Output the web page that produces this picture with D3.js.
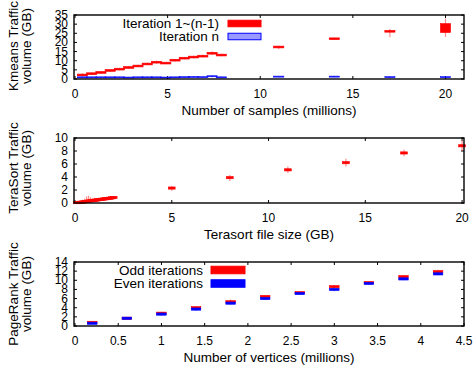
<!DOCTYPE html>
<html>
<head>
<meta charset="utf-8">
<script src="https://cdn.jsdelivr.net/npm/d3@7/dist/d3.min.js"></script>
<style>
  body { margin: 0; background: #fff; }
  text { font-family: "Liberation Sans", Arial, Helvetica, sans-serif; }
</style>
</head>
<body>
<svg id="chart" width="474" height="373"></svg>
<script>
// ---- Kmeans panel ----
const kmX = [0.4, 0.9, 1.4, 1.9, 2.4, 2.9, 3.4, 3.9, 4.4, 4.9, 5.4, 5.9, 6.4, 6.9, 7.4, 7.9, 11, 14, 17, 20];
// Iteration 1~(n-1): box low / high, whisker min / max
const kmRedLow  = [1.8, 2.5, 3.2, 4.3, 5.0, 5.9, 6.7, 7.8, 8.8, 8.3, 9.9, 11.0, 11.6, 12.1, 13.6, 12.7, 17.1, 21.7, 25.7, 25.4];
const kmRedHigh = [2.6, 3.3, 4.0, 5.1, 5.8, 6.7, 7.5, 8.6, 9.6, 9.1, 10.7, 11.8, 12.4, 12.9, 14.6, 13.5, 17.9, 22.3, 26.5, 30.3];
const kmRedMin  = [1.4, 2.2, 2.9, 4.0, 4.8, 5.6, 6.5, 7.6, 8.4, 8.1, 9.6, 10.8, 11.3, 11.8, 13.2, 12.5, 16.3, 21.3, 22.9, 23.0];
const kmRedMax  = [3.0, 3.6, 4.3, 5.4, 6.1, 7.0, 7.8, 8.9, 10.0, 9.3, 11.0, 12.0, 12.7, 13.2, 15.2, 13.8, 18.2, 22.6, 27.3, 33.0];
// Iteration n
const kmBlue    = [0.9, 0.9, 0.9, 0.9, 0.9, 0.8, 0.9, 0.9, 0.9, 0.8, 0.9, 1.0, 1.1, 1.0, 1.5, 0.9, 1.3, 1.3, 1.0, 1.0];
const kmBlueMin = [0.6, 0.6, 0.6, 0.6, 0.6, 0.5, 0.6, 0.6, 0.6, 0.5, 0.6, 0.7, 0.7, 0.7, 1.0, 0.6, 1.0, 1.0, 0.6, 0.6];
const kmBlueMax = [1.2, 1.2, 1.2, 1.2, 1.2, 1.1, 1.2, 1.2, 1.2, 1.1, 1.2, 1.3, 1.6, 1.3, 2.0, 1.2, 1.6, 1.6, 1.4, 1.5];
const kmXTicks = [0, 5, 10, 15, 20];
const kmYTicks = [0, 5, 10, 15, 20, 25, 30, 35];

// ---- TeraSort panel ----
const tsX   = [0.1, 0.2, 0.3, 0.4, 0.5, 0.6, 0.7, 0.8, 0.9, 1.0, 1.1, 1.2, 1.3, 1.4, 1.5, 1.6, 1.7, 1.8, 1.9, 2.0, 5, 8, 11, 14, 17, 20];
const tsVal = [0.05, 0.08, 0.12, 0.15, 0.2, 0.25, 0.3, 0.33, 0.37, 0.42, 0.45, 0.5, 0.53, 0.57, 0.62, 0.66, 0.7, 0.74, 0.8, 0.85, 2.3, 3.9, 5.1, 6.2, 7.7, 8.8];
const tsMin = [0.0, 0.0, 0.0, 0.05, 0.1, 0.1, 0.15, 0.2, 0.25, 0.3, 0.35, 0.4, 0.45, 0.45, 0.5, 0.55, 0.6, 0.65, 0.7, 0.75, 1.9, 3.4, 4.6, 5.6, 7.2, 8.0];
const tsMax = [0.2, 0.3, 0.4, 0.5, 0.7, 1.0, 1.1, 0.9, 0.7, 0.8, 0.7, 0.8, 0.7, 0.8, 0.9, 0.8, 0.9, 0.9, 1.0, 1.0, 2.6, 4.3, 5.6, 6.8, 8.2, 9.6];
const tsXTicks = [0, 5, 10, 15, 20];
const tsYTicks = [0, 2, 4, 6, 8, 10];

// ---- PageRank panel ----
const prX      = [0.2, 0.6, 1.0, 1.4, 1.8, 2.2, 2.6, 3.0, 3.4, 3.8, 4.2];
const prOdd    = [0.8, 1.7, 2.8, 4.0, 5.3, 6.45, 7.3, 8.6, 9.5, 10.8, 11.9];
const prOddMin = [0.6, 1.5, 2.5, 3.7, 5.0, 6.2, 7.1, 8.3, 9.3, 10.5, 11.6];
const prOddMax = [1.0, 1.9, 3.1, 4.3, 5.8, 6.7, 7.5, 8.9, 9.7, 11.1, 12.3];
const prEven    = [0.6, 1.7, 2.6, 3.7, 5.0, 6.0, 7.1, 8.0, 9.3, 10.3, 11.4];
const prEvenMin = [0.4, 1.5, 2.3, 3.3, 4.7, 5.7, 6.9, 7.6, 9.0, 10.0, 11.1];
const prEvenMax = [0.8, 1.9, 2.9, 4.0, 5.3, 6.3, 7.3, 8.4, 9.6, 10.6, 11.7];
const prXTicks = [0, 0.5, 1, 1.5, 2, 2.5, 3, 3.5, 4, 4.5];
const prYTicks = [0, 2, 4, 6, 8, 10, 12, 14];

const svg = d3.select('#chart');
const left = 74, right = 464;

function panel(top, bottom, xDomain, yDomain, xTicks, yTicks, xTitle, yLines, labelCenter) {
  const x = d3.scaleLinear().domain(xDomain).range([left + 1, right]);
  const y = d3.scaleLinear().domain(yDomain).range([bottom, top]);
  const g = svg.append('g');

  // inward ticks on all four sides (mirror)
  const tl = 3;
  xTicks.forEach(function (t) {
    g.append('line').attr('x1', x(t)).attr('x2', x(t)).attr('y1', bottom).attr('y2', bottom - tl)
      .attr('stroke', '#000').attr('stroke-width', 1);
    g.append('line').attr('x1', x(t)).attr('x2', x(t)).attr('y1', top).attr('y2', top + tl)
      .attr('stroke', '#000').attr('stroke-width', 1);
    g.append('text').attr('x', x(t)).attr('y', bottom + 19)
      .attr('text-anchor', 'middle').attr('font-size', 12).text(t);
  });
  yTicks.forEach(function (t) {
    g.append('line').attr('x1', left).attr('x2', left + tl).attr('y1', y(t)).attr('y2', y(t))
      .attr('stroke', '#000').attr('stroke-width', 1);
    g.append('line').attr('x1', right).attr('x2', right - tl).attr('y1', y(t)).attr('y2', y(t))
      .attr('stroke', '#000').attr('stroke-width', 1);
    g.append('text').attr('x', left - 6).attr('y', y(t))
      .attr('text-anchor', 'end').attr('dominant-baseline', 'central')
      .attr('font-size', 12).text(t);
  });

  g.append('text').attr('x', (left + right) / 2).attr('y', bottom + 36)
    .attr('text-anchor', 'middle').attr('font-size', 13.5).text(xTitle);

  yLines.forEach(function (s, i) {
    g.append('text')
      .attr('transform', 'translate(' + (17.5 + i * 13) + ',' + labelCenter + ') rotate(-90)')
      .attr('text-anchor', 'middle').attr('font-size', 13.5).text(s);
  });

  return { g: g, x: x, y: y, top: top, bottom: bottom };
}

function border(p) {
  p.g.append('rect')
    .attr('x', left).attr('y', p.top)
    .attr('width', right - left).attr('height', p.bottom - p.top)
    .attr('fill', 'none').attr('stroke', '#000').attr('stroke-width', 1.4);
}

// candlestick: box from lo to hi (at least minPx tall), whisker from mn to mx
function candles(p, xs, lo, hi, mn, mx, width, fill, stroke, minPx) {
  const g = p.g.append('g');
  xs.forEach(function (xv, i) {
    const cx = p.x(xv);
    const w = p.x(xv + width / 2) - p.x(xv - width / 2);
    g.append('line')
      .attr('x1', cx).attr('x2', cx)
      .attr('y1', p.y(mn[i])).attr('y2', p.y(mx[i]))
      .attr('stroke', stroke).attr('stroke-opacity', 0.45).attr('stroke-width', 1.2);
    let y1 = p.y(hi[i]), y2 = p.y(lo[i]);
    let h = y2 - y1;
    if (h < minPx) { const c = (y1 + y2) / 2; y1 = c - minPx / 2; h = minPx; }
    g.append('rect')
      .attr('x', cx - w / 2).attr('y', y1)
      .attr('width', w).attr('height', h)
      .attr('fill', fill).attr('stroke', stroke).attr('stroke-width', 0.6);
  });
}

function legend(p, items, textRight, boxX, boxW, boxH, y0, dy) {
  items.forEach(function (d, i) {
    const yc = y0 + i * dy;
    p.g.append('text').attr('x', textRight).attr('y', yc)
      .attr('text-anchor', 'end').attr('dominant-baseline', 'central')
      .attr('font-size', 13.5).text(d.label);
    p.g.append('rect').attr('x', boxX).attr('y', yc - boxH / 2)
      .attr('width', boxW).attr('height', boxH)
      .attr('fill', d.fill).attr('stroke', d.stroke).attr('stroke-width', 1);
  });
}

// Kmeans
const p1 = panel(15, 79, [0, 21], [0, 35], kmXTicks, kmYTicks,
  'Number of samples (millions)', ['Kmeans Traffic', 'volume (GB)'], 46);
candles(p1, kmX, kmRedLow, kmRedHigh, kmRedMin, kmRedMax, 0.55, '#ff0000', '#ff0000', 1.8);
candles(p1, kmX, kmBlue, kmBlue, kmBlueMin, kmBlueMax, 0.55, '#3333ff', '#0000ff', 1.0);
legend(p1, [
  { label: 'Iteration 1~(n-1)', fill: '#ff0000', stroke: '#ff0000' },
  { label: 'Iteration n', fill: '#9999ff', stroke: '#0000ff' }
], 219, 228, 33, 6.5, 23.5, 13);
border(p1);

// TeraSort
const p2 = panel(138, 203, [0, 20.1], [0, 10], tsXTicks, tsYTicks,
  'Terasort file size (GB)', ['TeraSort Traffic', 'volume (GB)'], 168);
candles(p2, tsX, tsVal, tsVal, tsMin, tsMax, 0.35, '#ff0000', '#ff0000', 2.2);
border(p2);

// PageRank
const p3 = panel(262, 326, [0, 4.5], [0, 14], prXTicks, prYTicks,
  'Number of vertices (millions)', ['PageRank Traffic', 'volume (GB)'], 294);
candles(p3, prX, prOdd, prOdd, prOddMin, prOddMax, 0.11, '#ff0000', '#ff0000', 2.2);
candles(p3, prX, prEven, prEven, prEvenMin, prEvenMax, 0.11, '#0000ff', '#0000ff', 2.2);
legend(p3, [
  { label: 'Odd iterations', fill: '#ff0000', stroke: '#ff0000' },
  { label: 'Even iterations', fill: '#0000ff', stroke: '#0000ff' }
], 203, 211, 34, 7.5, 270, 13.5);
border(p3);
</script>
</body>
</html>
